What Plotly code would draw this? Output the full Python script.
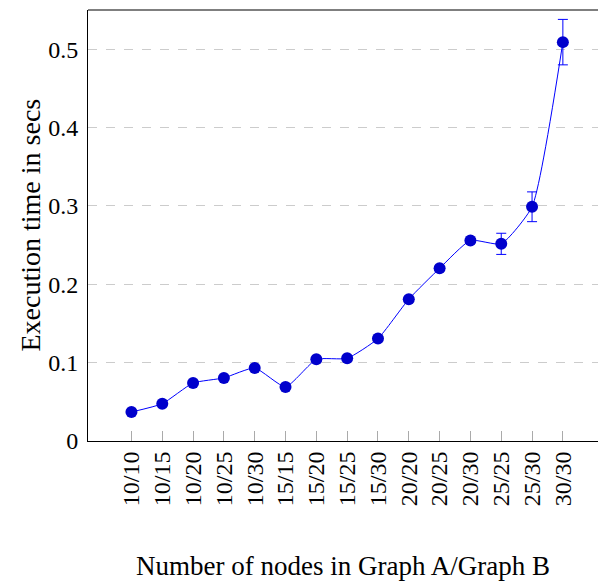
import plotly.graph_objects as go

categories = ["10/10", "10/15", "10/20", "10/25", "10/30", "15/15", "15/20", "15/25",
              "15/30", "20/20", "20/25", "20/30", "25/25", "25/30", "30/30"]
exec_time = [0.037, 0.0476, 0.074, 0.0805, 0.0932, 0.069, 0.1042, 0.1055,
             0.1307, 0.181, 0.2204, 0.256, 0.2516, 0.2989, 0.509]
errors = [0, 0, 0, 0, 0, 0, 0, 0, 0, 0, 0, 0, 0.0135, 0.019, 0.029]
y_ticks = [0, 0.1, 0.2, 0.3, 0.4, 0.5]
y_tick_labels = ["0", "0.1", "0.2", "0.3", "0.4", "0.5"]

FONT = "Liberation Serif"
x_idx = list(range(len(categories)))

fig = go.Figure()
fig.add_trace(go.Scatter(
    x=x_idx, y=exec_time,
    mode="lines+markers",
    line=dict(color="#0000FF", width=1, shape="spline", smoothing=0.5),
    marker=dict(color="#0000CC", size=12, line=dict(width=0)),
    error_y=dict(type="data", array=errors, visible=True, color="#0000FF",
                 thickness=1, width=5),
    showlegend=False,
))

fig.update_layout(
    width=598, height=583,
    margin=dict(l=88, r=0, t=10, b=142),
    plot_bgcolor="white", paper_bgcolor="white",
    font=dict(family=FONT, size=24, color="black"),
    xaxis=dict(
        range=[-1.41, 15.14], tickmode="array", tickvals=x_idx, ticktext=categories,
        tickangle=-90, ticks="inside", ticklen=10, tickcolor="#aaaaaa", tickwidth=1,
        showline=True, linecolor="black", linewidth=1, showgrid=False, zeroline=False,
        tickfont=dict(family=FONT, size=24),
    ),
    yaxis=dict(
        range=[0, 0.55], tickmode="array", tickvals=y_ticks, ticktext=y_tick_labels,
        ticks="", showline=True, linecolor="black", linewidth=1,
        showgrid=True, gridcolor="#cccccc", griddash="dash", gridwidth=1, zeroline=False,
        tickfont=dict(family=FONT, size=24), ticklabelstandoff=4,
    ),
    shapes=[dict(type="line", xref="paper", yref="paper", x0=0, x1=1, y0=1, y1=1,
                 line=dict(color="#555555", width=1.5))],
    annotations=[
        dict(text="Number of nodes in Graph A/Graph B", xref="paper", yref="paper",
             x=0.5, y=0, yshift=-125, showarrow=False, xanchor="center", yanchor="middle",
             font=dict(family=FONT, size=27)),
        dict(text="Execution time in secs", xref="paper", yref="paper",
             x=0, y=0.5, xshift=-58, showarrow=False, textangle=-90,
             xanchor="center", yanchor="middle", font=dict(family=FONT, size=28)),
    ],
)

fig.write_html("out.html")
